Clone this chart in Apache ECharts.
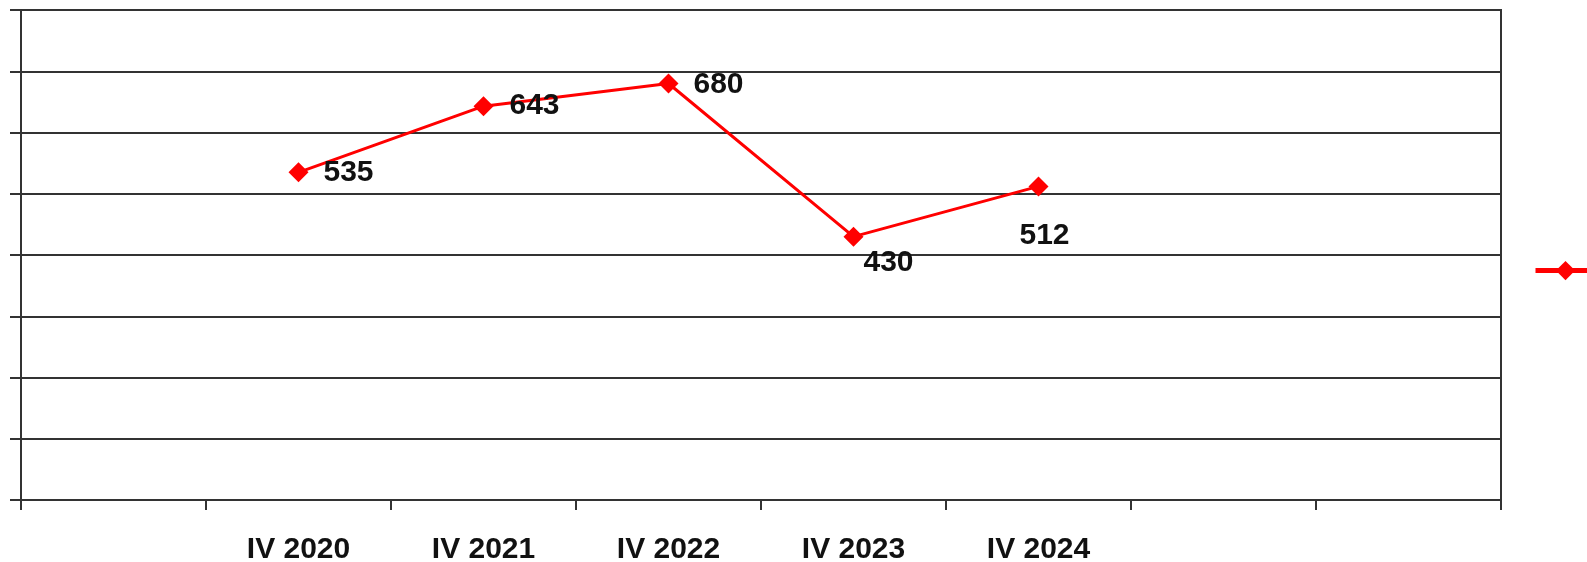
<!DOCTYPE html>
<html>
<head>
<meta charset="utf-8">
<script src="https://cdn.jsdelivr.net/npm/echarts@6/dist/echarts.min.js"></script>
<style>
  html, body { margin: 0; padding: 0; background: #fff; }
  #myChart { width: 1587px; height: 562px; }
</style>
</head>
<body>
<div id="myChart"></div>
<script>
// данные графика
var categories = ["", "IV 2020", "IV 2021", "IV 2022", "IV 2023", "IV 2024", "", ""];
var values = [null, 535, 643, 680, 430, 512, null, null];
// сдвиг подписей [dx, dy] относительно точки
var labelOffsets = [null, [15, 0], [16, 0], [15, 1], [0, 26], [-29, 49], null, null];
var seriesName = "Количество";

document.addEventListener("DOMContentLoaded", function () {
  var myChart = echarts.init(document.getElementById("myChart"));

  var seriesData = values.map(function (v, i) {
    if (v === null) return null;
    return {
      value: v,
      label: { offset: labelOffsets[i] }
    };
  });

  var option = {
    animation: false,
    backgroundColor: "#fff",
    textStyle: { fontFamily: "Liberation Sans, Arial, sans-serif" },
    legend: {
      left: 1533,
      top: 261,
      padding: 0,
      itemWidth: 60,
      itemHeight: 24,
      lineStyle: { width: 5 },
      textStyle: { fontSize: 14, fontWeight: "bold", color: "#111" },
      data: [seriesName]
    },
    grid: {
      left: 21,
      right: 86,
      top: 10,
      bottom: 62,
      outerBoundsMode: "none",
      containLabel: false,
      show: true,
      borderColor: "#333",
      borderWidth: 2
    },
    xAxis: {
      type: "category",
      data: categories,
      boundaryGap: true,
      axisLine: { lineStyle: { color: "#333", width: 2 } },
      axisTick: { show: true, length: 10, lineStyle: { color: "#333", width: 2 } },
      axisLabel: {
        margin: 35,
        fontSize: 30,
        fontWeight: "bold",
        color: "#111",
        interval: 0
      }
    },
    yAxis: {
      type: "value",
      min: 0,
      max: 800,
      interval: 100,
      axisLine: { show: true, lineStyle: { color: "#333", width: 2 } },
      axisTick: { show: true, length: 11, lineStyle: { color: "#333", width: 2 } },
      axisLabel: { show: false },
      splitLine: { lineStyle: { color: "#333", width: 2 } }
    },
    series: [
      {
        name: seriesName,
        type: "line",
        data: seriesData,
        connectNulls: false,
        symbol: "diamond",
        symbolSize: 20,
        itemStyle: { color: "#ff0000" },
        lineStyle: { color: "#ff0000", width: 3 },
        label: {
          show: true,
          position: "right",
          distance: 0,
          fontSize: 30,
          fontWeight: "bold",
          color: "#111"
        }
      }
    ]
  };

  myChart.setOption(option);
});
</script>
</body>
</html>
